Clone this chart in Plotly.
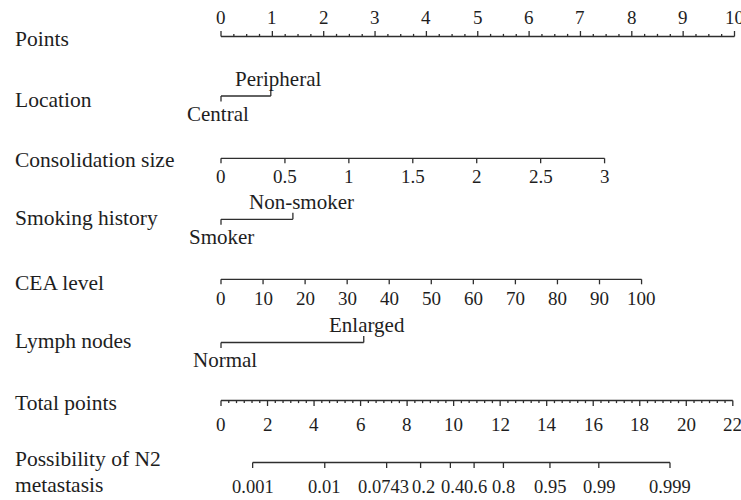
import plotly.graph_objects as go

# ---------------- data ----------------
points_ticks = [0, 1, 2, 3, 4, 5, 6, 7, 8, 9, 10]
points_minor_step = 0.25

location_levels = ["Central", "Peripheral"]
location_points = [0.0, 0.97]

consolidation_ticks = [0, 0.5, 1, 1.5, 2, 2.5, 3]
consolidation_labels = ["0", "0.5", "1", "1.5", "2", "2.5", "3"]
consolidation_points_at_max = 7.47

smoking_levels = ["Smoker", "Non-smoker"]
smoking_points = [0.0, 1.40]

cea_ticks = [0, 10, 20, 30, 40, 50, 60, 70, 80, 90, 100]
cea_points_at_max = 8.19

lymph_levels = ["Normal", "Enlarged"]
lymph_points = [0.0, 2.78]

total_ticks = [0, 2, 4, 6, 8, 10, 12, 14, 16, 18, 20, 22]
total_minor_step = 1 / 3
total_span_in_points = 9.967  # 22 total points on the Points scale

prob_labels = ["0.001", "0.01", "0.0743", "0.2", "0.4", "0.6", "0.8", "0.95", "0.99", "0.999"]
prob_total_points = [1.36, 4.46, 7.12, 8.58, 9.86, 10.88, 12.14, 14.14, 16.24, 19.30]

row_names = ["Points", "Location", "Consolidation size", "Smoking history",
             "CEA level", "Lymph nodes", "Total points", "Possibility of N2", "metastasis"]

# ---------------- layout constants ----------------
W, H = 741, 500
X0_PX, PX_PER_POINT = 221.0, 51.35
Y = dict(points=36.5, location=96.0, consolidation=158.3, smoking=219.3,
         cea=279.3, lymph=342.5, total=400.5, prob=462.5)
LABEL_Y = [39, 100, 159.5, 218, 283, 341, 403, 459, 485]
FONT = "Liberation Serif, Times New Roman, serif"
TXT = "#1e1e1e"
LINE = dict(color="#2e2e2e", width=1.3)
MAJOR, MINOR = 5.5, 2.6
PROB_LABEL_SHIFT = {"0.01": -1, "0.0743": -3, "0.2": 3, "0.4": 2, "0.6": 1}

fig = go.Figure()
annotations = []


def add_segments(segs):
    xs, ys = [], []
    for (xa, ya), (xb, yb) in segs:
        xs += [xa, xb, None]
        ys += [ya, yb, None]
    fig.add_trace(go.Scatter(x=xs, y=ys, mode="lines", line=LINE,
                             hoverinfo="skip", showlegend=False))


def add_text(x, y, text, size=19, xshift=0):
    annotations.append(dict(x=x, y=y, xref="x", yref="y", text=text, showarrow=False,
                            xanchor="center", yanchor="middle", xshift=xshift,
                            font=dict(family=FONT, size=size, color=TXT)))


def frange(a, b, step):
    out, i = [], 0
    while a + i * step <= b + 1e-9:
        out.append(a + i * step)
        i += 1
    return out


# Points axis (ticks upward)
y = Y["points"]
segs = [((points_ticks[0], y), (points_ticks[-1], y))]
for t in frange(points_ticks[0], points_ticks[-1], points_minor_step):
    is_major = abs(t - round(t)) < 1e-9
    segs.append(((t, y), (t, y - (MAJOR if is_major else MINOR))))
add_segments(segs)
for t in points_ticks:
    add_text(t, 17.5, str(t))


# categorical rows
def categorical(levels, pts, y, shifts):
    segs = [((min(pts), y), (max(pts), y))]
    for i, p in enumerate(pts):
        if i == 0:
            segs.append(((p, y), (p, y + MAJOR)))
            add_text(p, y + 17.5, levels[i], size=21, xshift=shifts[i])
        else:
            segs.append(((p, y), (p, y - 6.5)))
            add_text(p, y - 17.5, levels[i], size=21, xshift=shifts[i])
    add_segments(segs)


categorical(location_levels, location_points, Y["location"], [-3, 7])
categorical(smoking_levels, smoking_points, Y["smoking"], [0, 9])
categorical(lymph_levels, lymph_points, Y["lymph"], [4, 3])


# continuous rows (ticks downward)
def continuous(ticks, labels, pts_at_max, y, label_dy):
    tmax = ticks[-1]
    xs = [t / tmax * pts_at_max for t in ticks]
    segs = [((xs[0], y), (xs[-1], y))]
    for xv in xs:
        segs.append(((xv, y), (xv, y + 5)))
    add_segments(segs)
    for xv, lab in zip(xs, labels):
        add_text(xv, y + label_dy, lab)


continuous(consolidation_ticks, consolidation_labels, consolidation_points_at_max,
           Y["consolidation"], 18)
continuous(cea_ticks, [str(t) for t in cea_ticks], cea_points_at_max, Y["cea"], 19)

# Total points axis
k = total_span_in_points / total_ticks[-1]
y = Y["total"]
segs = [((0, y), (total_ticks[-1] * k, y))]
for t in frange(0, total_ticks[-1], total_minor_step):
    is_major = any(abs(t - m) < 1e-6 for m in total_ticks)
    segs.append(((t * k, y), (t * k, y + (MAJOR if is_major else MINOR))))
add_segments(segs)
for t in total_ticks:
    add_text(t * k, y + 24, str(t))

# Probability axis
y = Y["prob"]
px = [v * k for v in prob_total_points]
segs = [((px[0], y), (px[-1], y))]
for xv in px:
    segs.append(((xv, y), (xv, y + 5.5)))
add_segments(segs)
for xv, lab in zip(px, prob_labels):
    add_text(xv, y + 24, lab, size=18.5, xshift=PROB_LABEL_SHIFT.get(lab, 0))

# Row names
for name, ly in zip(row_names, LABEL_Y):
    annotations.append(dict(x=13 / W, y=ly, xref="paper", yref="y", text=name,
                            showarrow=False, xanchor="left", yanchor="middle", align="left",
                            font=dict(family=FONT, size=21.5, color=TXT)))

fig.update_layout(
    width=W, height=H, margin=dict(l=0, r=0, t=0, b=0),
    paper_bgcolor="white", plot_bgcolor="white", showlegend=False,
    xaxis=dict(range=[-X0_PX / PX_PER_POINT, (W - X0_PX) / PX_PER_POINT],
               visible=False, fixedrange=True),
    yaxis=dict(range=[H, 0], visible=False, fixedrange=True),
    annotations=annotations,
)

fig.write_html("out.html", config={"displayModeBar": False},
               post_script="document.body.style.margin='0px';document.body.style.padding='0px';")
